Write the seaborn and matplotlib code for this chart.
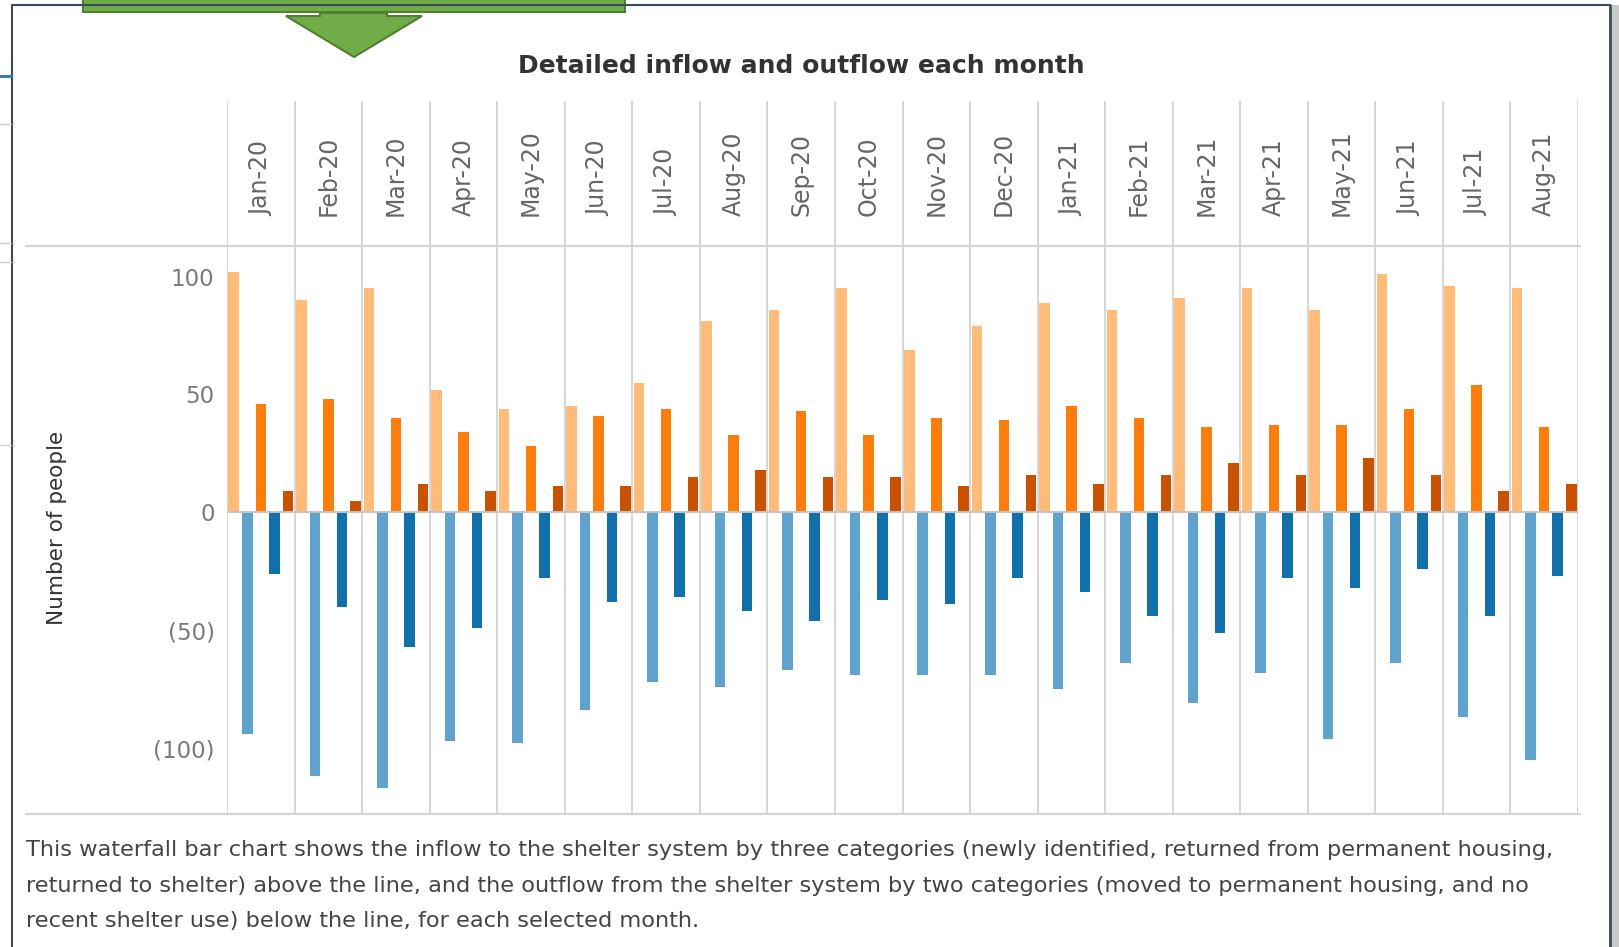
import numpy as np
import pandas as pd
import seaborn as sns
import matplotlib.pyplot as plt
from matplotlib.patches import Rectangle, Polygon
from matplotlib.ticker import FuncFormatter

"""data read off the chart"""

months = ["Jan-20", "Feb-20", "Mar-20", "Apr-20", "May-20", "Jun-20", "Jul-20",
          "Aug-20", "Sep-20", "Oct-20", "Nov-20", "Dec-20", "Jan-21", "Feb-21",
          "Mar-21", "Apr-21", "May-21", "Jun-21", "Jul-21", "Aug-21"]

newly_identified = [102, 90, 95, 52, 44, 45, 55, 81, 86, 95, 69, 79, 89, 86, 91, 95, 86, 101, 96, 95]
no_recent_use = [-94, -112, -117, -97, -98, -84, -72, -74, -67, -69, -69, -69, -75, -64, -81, -68, -96, -64, -87, -105]
returned_to_shelter = [46, 48, 40, 34, 28, 41, 44, 33, 43, 33, 40, 39, 45, 40, 36, 37, 37, 44, 54, 36]
moved_to_housing = [-26, -40, -57, -49, -28, -38, -36, -42, -46, -37, -39, -28, -34, -44, -51, -28, -32, -24, -44, -27]
returned_from_housing = [9, 5, 12, 9, 11, 11, 15, 18, 15, 15, 11, 16, 12, 16, 21, 16, 23, 16, 9, 12]

series = ["Newly identified", "No recent shelter use", "Returned to shelter",
          "Moved to permanent housing", "Returned from permanent housing"]
colors = ["#ffbc79", "#5fa2ce", "#fc7d0b", "#1170aa", "#c85200"]

df = pd.DataFrame({"month": months,
                   series[0]: newly_identified,
                   series[1]: no_recent_use,
                   series[2]: returned_to_shelter,
                   series[3]: moved_to_housing,
                   series[4]: returned_from_housing})
df = df.melt(id_vars="month", var_name="flow", value_name="people")

title = "Detailed inflow and outflow each month"
caption = ["This waterfall bar chart shows the inflow to the shelter system by three categories (newly identified, returned from permanent housing,",
           "returned to shelter) above the line, and the outflow from the shelter system by two categories (moved to permanent housing, and no",
           "recent shelter use) below the line, for each selected month."]

"""figure layout in pixels"""

sns.set_theme(style="white")
plt.rcParams['font.family'] = ['DejaVu Sans']

W, H = 1619, 947
fig = plt.figure(figsize=(W / 100, H / 100), dpi=100)

def fx(px):
    return px / W

def fy(py):
    return 1 - py / H

bg = fig.add_axes([0, 0, 1, 1])
bg.set_xlim(0, W)
bg.set_ylim(H, 0)
bg.axis("off")

ax = fig.add_axes([fx(227), fy(814), fx(1578) - fx(227), fy(246) - fy(814)])
axh = fig.add_axes([fx(227), fy(246), fx(1578) - fx(227), fy(101) - fy(246)])
ax.patch.set_alpha(0)
axh.patch.set_alpha(0)

"""bars"""

sns.barplot(data=df, x="month", y="people", hue="flow", order=months,
            hue_order=series, palette=colors, saturation=1, width=1.0,
            gap=0.22, errorbar=None, legend=False, ax=ax, zorder=2,
            linewidth=0)

ax.set_xlim(-0.5, len(months) - 0.5)
ax.set_ylim(-128, 113)
for s in ax.spines.values():
    s.set_visible(False)
ax.set_xticks([])
ax.set_xlabel("")
ax.set_ylabel("")
ax.set_yticks([-100, -50, 0, 50, 100])
ax.yaxis.set_major_formatter(FuncFormatter(lambda v, p: f"({abs(v):.0f})" if v < 0 else f"{v:.0f}"))
ax.tick_params(axis="y", length=0, pad=9, labelsize=16.5, labelcolor="#7a7a7a")
for i in range(len(months) + 1):
    ax.axvline(i - 0.5, color="#d3d3d3", lw=1.3, zorder=0)
ax.axhline(0, color="#c4c4c4", lw=1.4, zorder=3)

# month header
axh.set_xlim(-0.5, len(months) - 0.5)
axh.set_ylim(0, 1)
axh.axis("off")
for i in range(len(months) + 1):
    axh.axvline(i - 0.5, color="#d3d3d3", lw=1.3)
for i, m in enumerate(months):
    axh.text(i, 0.21, m, rotation=90, ha="center", va="bottom",
             fontsize=17, color="#666666")

# header and footer rules
bg.plot([26, 1580], [246, 246], color="#d4d4d4", lw=1.6)
bg.plot([26, 1580], [814, 814], color="#d4d4d4", lw=1.6)

"""texts"""

bg.text(801, 66, title, ha="center", va="center", fontsize=18,
        fontweight="bold", color="#333333")
bg.text(57, 528, "Number of people", rotation=90, ha="center", va="center",
        fontsize=15.5, color="#333333")
for k, line in enumerate(caption):
    bg.text(26, 850 + 35.5 * k, line, ha="left", va="center", fontsize=16.2,
            color="#444444")

"""screenshot frame and callout arrow"""

bg.plot([12, 12], [5, H], color="#3b4a5c", lw=1.5)
bg.plot([12, 1610], [5, 5], color="#3b4a5c", lw=1.5)
bg.plot([1610, 1610], [5, H], color="#3b4a5c", lw=2)
bg.add_patch(Rectangle((1612, 5), 7, H, facecolor="#c9c9c9", edgecolor="none"))
bg.plot([0, 11], [76, 76], color="#2e75b6", lw=2)
for yy in [124, 243, 262, 445]:
    bg.plot([0, 11], [yy, yy], color="#cfcfcf", lw=1)

bg.add_patch(Rectangle((83, -5), 542, 17, facecolor="#70ad47",
                       edgecolor="#507e32", lw=1.5))
bg.add_patch(Polygon([(320, 13), (387, 13), (387, 16), (422, 16), (354, 57),
                      (286, 16), (320, 16)], closed=True, facecolor="#70ad47",
                     edgecolor="#507e32", lw=1.5))

plt.savefig("out.png", dpi=100)
